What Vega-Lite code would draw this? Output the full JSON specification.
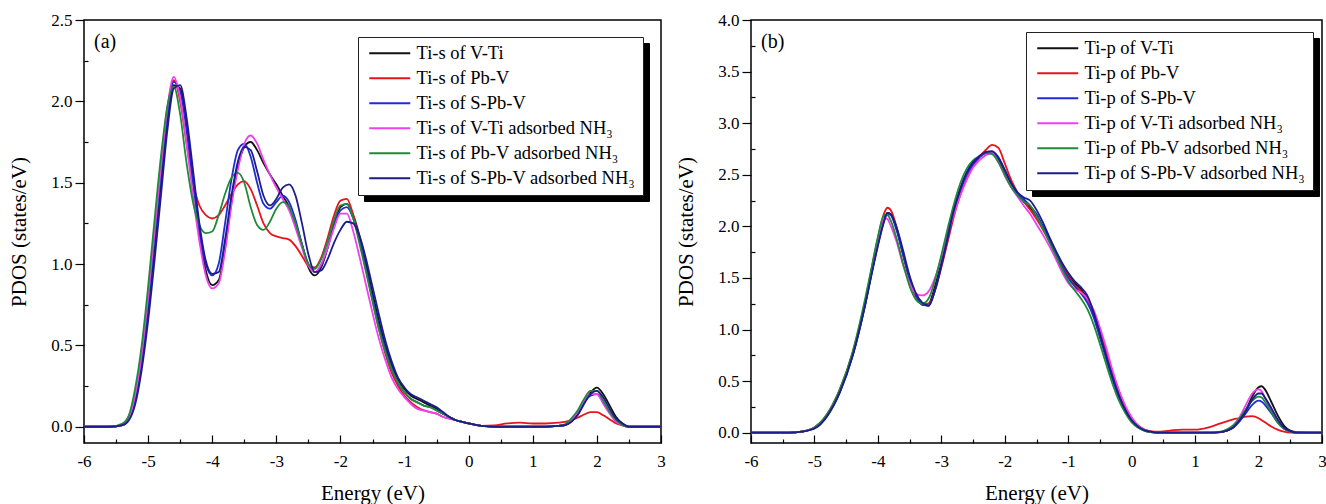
{
  "$schema": "https://vega.github.io/schema/vega-lite/v6.json",
  "autosize": {"type": "pad"},
  "padding": {"left": 8, "top": 10, "right": 0, "bottom": 0},
  "bounds": "flush",
  "spacing": 90,
  "resolve": {"scale": {"color": "independent", "stroke": "independent"}, "legend": {"color": "independent", "stroke": "independent"}},
  "config": {
    "view": {"stroke": "black", "strokeWidth": 1.5},
    "font": "Liberation Serif",
    "axis": {"labelFont": "Liberation Serif", "titleFont": "Liberation Serif", "labelColor": "black", "titleColor": "black", "tickColor": "black", "tickWidth": 1.2, "domain": false, "grid": false, "labelFontSize": 17, "titleFontSize": 21, "titleFontWeight": "normal", "labelFlush": false, "labelOverlap": false},
    "legend": {"labelFont": "Liberation Serif", "labelFontSize": 18.5, "labelColor": "black", "labelLimit": 400}
  },
  "datasets": {
    "a": [
      {"E": -6, "K": 0, "R": 0, "B": 0, "M": 0, "G": 0, "N": 0},
      {"E": -5.6, "K": 0, "R": 0, "B": 0, "M": 0, "G": 0, "N": 0},
      {"E": -5.4, "K": 0.01, "R": 0.01, "B": 0.01, "M": 0.01, "G": 0.02, "N": 0.01},
      {"E": -5.3, "K": 0.05, "R": 0.06, "B": 0.05, "M": 0.05, "G": 0.07, "N": 0.04},
      {"E": -5.2, "K": 0.17, "R": 0.2, "B": 0.18, "M": 0.2, "G": 0.24, "N": 0.14},
      {"E": -5.1, "K": 0.4, "R": 0.45, "B": 0.42, "M": 0.45, "G": 0.5, "N": 0.35},
      {"E": -5.0, "K": 0.72, "R": 0.8, "B": 0.75, "M": 0.8, "G": 0.86, "N": 0.65},
      {"E": -4.9, "K": 1.1, "R": 1.2, "B": 1.15, "M": 1.2, "G": 1.27, "N": 1.02},
      {"E": -4.8, "K": 1.5, "R": 1.6, "B": 1.55, "M": 1.6, "G": 1.66, "N": 1.42},
      {"E": -4.7, "K": 1.88, "R": 1.95, "B": 1.92, "M": 1.96, "G": 1.97, "N": 1.82},
      {"E": -4.6, "K": 2.1, "R": 2.13, "B": 2.12, "M": 2.15, "G": 2.09, "N": 2.08},
      {"E": -4.5, "K": 2.08, "R": 2.0, "B": 2.06, "M": 2.02, "G": 1.92, "N": 2.1},
      {"E": -4.4, "K": 1.85, "R": 1.74, "B": 1.82, "M": 1.74, "G": 1.62, "N": 1.9},
      {"E": -4.3, "K": 1.52, "R": 1.5, "B": 1.5, "M": 1.42, "G": 1.38, "N": 1.58},
      {"E": -4.2, "K": 1.2, "R": 1.36, "B": 1.2, "M": 1.14, "G": 1.24, "N": 1.25},
      {"E": -4.1, "K": 0.96, "R": 1.3, "B": 1.0, "M": 0.93, "G": 1.19, "N": 1.02},
      {"E": -4.0, "K": 0.87, "R": 1.28, "B": 0.93, "M": 0.85, "G": 1.2, "N": 0.94},
      {"E": -3.9, "K": 0.9, "R": 1.3, "B": 1.0, "M": 0.88, "G": 1.3, "N": 0.95},
      {"E": -3.8, "K": 1.1, "R": 1.36, "B": 1.25, "M": 1.08, "G": 1.43, "N": 1.15},
      {"E": -3.7, "K": 1.38, "R": 1.43, "B": 1.52, "M": 1.36, "G": 1.53, "N": 1.42},
      {"E": -3.6, "K": 1.6, "R": 1.49, "B": 1.7, "M": 1.58, "G": 1.56, "N": 1.63},
      {"E": -3.5, "K": 1.72, "R": 1.51, "B": 1.74, "M": 1.74, "G": 1.5, "N": 1.72},
      {"E": -3.4, "K": 1.75, "R": 1.46, "B": 1.66, "M": 1.79, "G": 1.35, "N": 1.7},
      {"E": -3.3, "K": 1.7, "R": 1.36, "B": 1.5, "M": 1.74, "G": 1.24, "N": 1.57},
      {"E": -3.2, "K": 1.62, "R": 1.25, "B": 1.37, "M": 1.64, "G": 1.21, "N": 1.42},
      {"E": -3.1, "K": 1.55, "R": 1.19, "B": 1.34, "M": 1.55, "G": 1.26, "N": 1.36},
      {"E": -3.0, "K": 1.49, "R": 1.17, "B": 1.38, "M": 1.47, "G": 1.34, "N": 1.4},
      {"E": -2.9, "K": 1.42, "R": 1.16, "B": 1.42, "M": 1.4, "G": 1.38, "N": 1.47},
      {"E": -2.8, "K": 1.35, "R": 1.15, "B": 1.38, "M": 1.33, "G": 1.35, "N": 1.49},
      {"E": -2.7, "K": 1.25, "R": 1.11, "B": 1.27, "M": 1.22, "G": 1.25, "N": 1.42},
      {"E": -2.6, "K": 1.12, "R": 1.05, "B": 1.12, "M": 1.1, "G": 1.12, "N": 1.25},
      {"E": -2.5, "K": 0.98, "R": 0.99, "B": 1.0, "M": 0.99, "G": 1.0, "N": 1.06},
      {"E": -2.4, "K": 0.93, "R": 0.98, "B": 0.95, "M": 0.95, "G": 0.97, "N": 0.95},
      {"E": -2.3, "K": 0.98, "R": 1.04, "B": 0.99, "M": 1.0, "G": 1.03, "N": 0.96},
      {"E": -2.2, "K": 1.1, "R": 1.16, "B": 1.1, "M": 1.1, "G": 1.14, "N": 1.03},
      {"E": -2.1, "K": 1.25, "R": 1.3, "B": 1.24, "M": 1.22, "G": 1.27, "N": 1.13},
      {"E": -2.0, "K": 1.35, "R": 1.39, "B": 1.33, "M": 1.31, "G": 1.36, "N": 1.21},
      {"E": -1.9, "K": 1.37, "R": 1.4, "B": 1.35, "M": 1.31, "G": 1.37, "N": 1.26},
      {"E": -1.8, "K": 1.3, "R": 1.3, "B": 1.28, "M": 1.2, "G": 1.28, "N": 1.25},
      {"E": -1.7, "K": 1.17, "R": 1.14, "B": 1.14, "M": 1.04, "G": 1.12, "N": 1.17},
      {"E": -1.6, "K": 1.0, "R": 0.96, "B": 0.97, "M": 0.87, "G": 0.95, "N": 1.03},
      {"E": -1.5, "K": 0.82, "R": 0.78, "B": 0.79, "M": 0.7, "G": 0.77, "N": 0.86},
      {"E": -1.4, "K": 0.65, "R": 0.6, "B": 0.62, "M": 0.54, "G": 0.6, "N": 0.69},
      {"E": -1.3, "K": 0.5, "R": 0.45, "B": 0.48, "M": 0.41, "G": 0.46, "N": 0.53},
      {"E": -1.2, "K": 0.38, "R": 0.33, "B": 0.36, "M": 0.3, "G": 0.35, "N": 0.4},
      {"E": -1.1, "K": 0.29, "R": 0.25, "B": 0.27, "M": 0.23, "G": 0.27, "N": 0.3},
      {"E": -1.0, "K": 0.23, "R": 0.19, "B": 0.21, "M": 0.18, "G": 0.21, "N": 0.24},
      {"E": -0.9, "K": 0.19, "R": 0.15, "B": 0.17, "M": 0.14, "G": 0.17, "N": 0.2},
      {"E": -0.8, "K": 0.17, "R": 0.12, "B": 0.15, "M": 0.11, "G": 0.15, "N": 0.18},
      {"E": -0.7, "K": 0.15, "R": 0.1, "B": 0.13, "M": 0.1, "G": 0.13, "N": 0.16},
      {"E": -0.6, "K": 0.13, "R": 0.09, "B": 0.12, "M": 0.09, "G": 0.12, "N": 0.14},
      {"E": -0.5, "K": 0.11, "R": 0.08, "B": 0.1, "M": 0.08, "G": 0.1, "N": 0.12},
      {"E": -0.4, "K": 0.08, "R": 0.06, "B": 0.08, "M": 0.06, "G": 0.08, "N": 0.09},
      {"E": -0.3, "K": 0.06, "R": 0.05, "B": 0.06, "M": 0.05, "G": 0.06, "N": 0.06},
      {"E": -0.2, "K": 0.04, "R": 0.04, "B": 0.04, "M": 0.04, "G": 0.04, "N": 0.04},
      {"E": -0.1, "K": 0.03, "R": 0.03, "B": 0.03, "M": 0.03, "G": 0.03, "N": 0.03},
      {"E": 0.0, "K": 0.02, "R": 0.02, "B": 0.02, "M": 0.02, "G": 0.02, "N": 0.02},
      {"E": 0.2, "K": 0.005, "R": 0.005, "B": 0.005, "M": 0.005, "G": 0.005, "N": 0.005},
      {"E": 0.4, "K": 0, "R": 0.008, "B": 0, "M": 0, "G": 0, "N": 0},
      {"E": 0.6, "K": 0, "R": 0.02, "B": 0, "M": 0, "G": 0, "N": 0},
      {"E": 0.8, "K": 0, "R": 0.025, "B": 0, "M": 0, "G": 0, "N": 0},
      {"E": 1.0, "K": 0, "R": 0.02, "B": 0, "M": 0, "G": 0, "N": 0},
      {"E": 1.2, "K": 0, "R": 0.02, "B": 0, "M": 0, "G": 0, "N": 0},
      {"E": 1.4, "K": 0.005, "R": 0.025, "B": 0.005, "M": 0.005, "G": 0.005, "N": 0.005},
      {"E": 1.5, "K": 0.01, "R": 0.03, "B": 0.01, "M": 0.01, "G": 0.015, "N": 0.01},
      {"E": 1.6, "K": 0.03, "R": 0.04, "B": 0.04, "M": 0.04, "G": 0.05, "N": 0.03},
      {"E": 1.7, "K": 0.08, "R": 0.055, "B": 0.09, "M": 0.09, "G": 0.1, "N": 0.07},
      {"E": 1.8, "K": 0.15, "R": 0.075, "B": 0.15, "M": 0.16, "G": 0.17, "N": 0.14},
      {"E": 1.9, "K": 0.21, "R": 0.09, "B": 0.19, "M": 0.2, "G": 0.22, "N": 0.2},
      {"E": 2.0, "K": 0.24, "R": 0.09, "B": 0.2, "M": 0.2, "G": 0.22, "N": 0.22},
      {"E": 2.1, "K": 0.2, "R": 0.07, "B": 0.15, "M": 0.14, "G": 0.16, "N": 0.18},
      {"E": 2.2, "K": 0.13, "R": 0.045, "B": 0.09, "M": 0.08, "G": 0.09, "N": 0.11},
      {"E": 2.3, "K": 0.06, "R": 0.02, "B": 0.04, "M": 0.03, "G": 0.04, "N": 0.05},
      {"E": 2.4, "K": 0.02, "R": 0.008, "B": 0.01, "M": 0.01, "G": 0.01, "N": 0.02},
      {"E": 2.5, "K": 0, "R": 0, "B": 0, "M": 0, "G": 0, "N": 0},
      {"E": 3.0, "K": 0, "R": 0, "B": 0, "M": 0, "G": 0, "N": 0}
    ],
    "b": [
      {"E": -6, "K": 0, "R": 0, "B": 0, "M": 0, "G": 0, "N": 0},
      {"E": -5.4, "K": 0, "R": 0, "B": 0, "M": 0, "G": 0, "N": 0},
      {"E": -5.2, "K": 0.01, "R": 0.01, "B": 0.01, "M": 0.01, "G": 0.01, "N": 0.01},
      {"E": -5.0, "K": 0.05, "R": 0.05, "B": 0.04, "M": 0.05, "G": 0.05, "N": 0.04},
      {"E": -4.8, "K": 0.17, "R": 0.18, "B": 0.16, "M": 0.17, "G": 0.18, "N": 0.16},
      {"E": -4.6, "K": 0.4, "R": 0.42, "B": 0.39, "M": 0.41, "G": 0.42, "N": 0.39},
      {"E": -4.4, "K": 0.75, "R": 0.77, "B": 0.74, "M": 0.76, "G": 0.78, "N": 0.74},
      {"E": -4.2, "K": 1.25, "R": 1.27, "B": 1.24, "M": 1.27, "G": 1.3, "N": 1.24},
      {"E": -4.1, "K": 1.55, "R": 1.58, "B": 1.54, "M": 1.58, "G": 1.6, "N": 1.53},
      {"E": -4.0, "K": 1.84, "R": 1.88, "B": 1.82, "M": 1.88, "G": 1.9, "N": 1.81},
      {"E": -3.9, "K": 2.07, "R": 2.13, "B": 2.06, "M": 2.08, "G": 2.11, "N": 2.05},
      {"E": -3.85, "K": 2.13, "R": 2.18, "B": 2.12, "M": 2.07, "G": 2.11, "N": 2.13},
      {"E": -3.8, "K": 2.12, "R": 2.16, "B": 2.11, "M": 2.01, "G": 2.06, "N": 2.12},
      {"E": -3.7, "K": 1.97, "R": 1.98, "B": 1.95, "M": 1.84, "G": 1.87, "N": 1.98},
      {"E": -3.6, "K": 1.72, "R": 1.72, "B": 1.72, "M": 1.62, "G": 1.63, "N": 1.76},
      {"E": -3.5, "K": 1.5, "R": 1.48, "B": 1.49, "M": 1.45, "G": 1.42, "N": 1.52},
      {"E": -3.4, "K": 1.33, "R": 1.32, "B": 1.33, "M": 1.35, "G": 1.29, "N": 1.35},
      {"E": -3.3, "K": 1.24, "R": 1.25, "B": 1.24, "M": 1.33, "G": 1.25, "N": 1.26},
      {"E": -3.2, "K": 1.25, "R": 1.25, "B": 1.23, "M": 1.37, "G": 1.3, "N": 1.23},
      {"E": -3.1, "K": 1.42, "R": 1.38, "B": 1.38, "M": 1.5, "G": 1.48, "N": 1.38},
      {"E": -3.0, "K": 1.65, "R": 1.6, "B": 1.62, "M": 1.7, "G": 1.72, "N": 1.62},
      {"E": -2.9, "K": 1.92, "R": 1.85, "B": 1.88, "M": 1.92, "G": 1.98, "N": 1.9},
      {"E": -2.8, "K": 2.17, "R": 2.1, "B": 2.15, "M": 2.12, "G": 2.22, "N": 2.16},
      {"E": -2.7, "K": 2.37, "R": 2.31, "B": 2.35, "M": 2.3, "G": 2.42, "N": 2.36},
      {"E": -2.6, "K": 2.52, "R": 2.46, "B": 2.5, "M": 2.45, "G": 2.56, "N": 2.52},
      {"E": -2.5, "K": 2.62, "R": 2.58, "B": 2.6, "M": 2.57, "G": 2.64, "N": 2.62},
      {"E": -2.4, "K": 2.68, "R": 2.67, "B": 2.67, "M": 2.64, "G": 2.68, "N": 2.68},
      {"E": -2.3, "K": 2.72, "R": 2.74, "B": 2.71, "M": 2.69, "G": 2.71, "N": 2.72},
      {"E": -2.2, "K": 2.72, "R": 2.79, "B": 2.72, "M": 2.71, "G": 2.7, "N": 2.73},
      {"E": -2.1, "K": 2.65, "R": 2.76, "B": 2.66, "M": 2.62, "G": 2.62, "N": 2.67},
      {"E": -2.0, "K": 2.53, "R": 2.61, "B": 2.54, "M": 2.49, "G": 2.5, "N": 2.55},
      {"E": -1.9, "K": 2.42, "R": 2.45, "B": 2.42, "M": 2.38, "G": 2.38, "N": 2.42},
      {"E": -1.8, "K": 2.32, "R": 2.33, "B": 2.32, "M": 2.29, "G": 2.3, "N": 2.33},
      {"E": -1.7, "K": 2.24, "R": 2.24, "B": 2.26, "M": 2.2, "G": 2.24, "N": 2.28},
      {"E": -1.6, "K": 2.18, "R": 2.16, "B": 2.2, "M": 2.12, "G": 2.2, "N": 2.25},
      {"E": -1.5, "K": 2.1, "R": 2.07, "B": 2.12, "M": 2.02, "G": 2.1, "N": 2.16},
      {"E": -1.4, "K": 2.0, "R": 1.97, "B": 2.0, "M": 1.92, "G": 1.98, "N": 2.04},
      {"E": -1.3, "K": 1.88, "R": 1.86, "B": 1.87, "M": 1.81, "G": 1.85, "N": 1.9},
      {"E": -1.2, "K": 1.76, "R": 1.75, "B": 1.74, "M": 1.69, "G": 1.72, "N": 1.77},
      {"E": -1.1, "K": 1.64, "R": 1.63, "B": 1.61, "M": 1.56, "G": 1.59, "N": 1.65},
      {"E": -1.0, "K": 1.53, "R": 1.52, "B": 1.5, "M": 1.45, "G": 1.47, "N": 1.55},
      {"E": -0.9, "K": 1.45, "R": 1.43, "B": 1.42, "M": 1.39, "G": 1.38, "N": 1.47},
      {"E": -0.8, "K": 1.39, "R": 1.37, "B": 1.35, "M": 1.36, "G": 1.3, "N": 1.41},
      {"E": -0.7, "K": 1.3, "R": 1.29, "B": 1.26, "M": 1.3, "G": 1.2, "N": 1.33},
      {"E": -0.6, "K": 1.15, "R": 1.17, "B": 1.12, "M": 1.19, "G": 1.05, "N": 1.17},
      {"E": -0.5, "K": 0.95, "R": 0.99, "B": 0.92, "M": 1.02, "G": 0.86, "N": 0.96},
      {"E": -0.4, "K": 0.74, "R": 0.79, "B": 0.71, "M": 0.82, "G": 0.66, "N": 0.74},
      {"E": -0.3, "K": 0.54, "R": 0.58, "B": 0.51, "M": 0.6, "G": 0.47, "N": 0.54},
      {"E": -0.2, "K": 0.37, "R": 0.4, "B": 0.34, "M": 0.41, "G": 0.31, "N": 0.36},
      {"E": -0.1, "K": 0.23, "R": 0.25, "B": 0.21, "M": 0.26, "G": 0.19, "N": 0.22},
      {"E": 0.0, "K": 0.13, "R": 0.14, "B": 0.11, "M": 0.15, "G": 0.1, "N": 0.12},
      {"E": 0.1, "K": 0.06, "R": 0.07, "B": 0.05, "M": 0.07, "G": 0.05, "N": 0.06},
      {"E": 0.2, "K": 0.025, "R": 0.03, "B": 0.02, "M": 0.03, "G": 0.02, "N": 0.025},
      {"E": 0.3, "K": 0.01, "R": 0.015, "B": 0.005, "M": 0.01, "G": 0.005, "N": 0.01},
      {"E": 0.4, "K": 0, "R": 0.01, "B": 0, "M": 0, "G": 0, "N": 0},
      {"E": 0.6, "K": 0, "R": 0.02, "B": 0, "M": 0, "G": 0, "N": 0},
      {"E": 0.8, "K": 0, "R": 0.03, "B": 0, "M": 0, "G": 0, "N": 0},
      {"E": 1.0, "K": 0, "R": 0.03, "B": 0, "M": 0, "G": 0, "N": 0},
      {"E": 1.2, "K": 0, "R": 0.05, "B": 0, "M": 0, "G": 0, "N": 0},
      {"E": 1.4, "K": 0.005, "R": 0.09, "B": 0.005, "M": 0.005, "G": 0.01, "N": 0.005},
      {"E": 1.5, "K": 0.02, "R": 0.11, "B": 0.02, "M": 0.03, "G": 0.03, "N": 0.02},
      {"E": 1.6, "K": 0.05, "R": 0.13, "B": 0.05, "M": 0.07, "G": 0.07, "N": 0.05},
      {"E": 1.7, "K": 0.12, "R": 0.14, "B": 0.11, "M": 0.15, "G": 0.14, "N": 0.12},
      {"E": 1.8, "K": 0.22, "R": 0.155, "B": 0.19, "M": 0.27, "G": 0.23, "N": 0.21},
      {"E": 1.9, "K": 0.35, "R": 0.16, "B": 0.27, "M": 0.38, "G": 0.31, "N": 0.32},
      {"E": 2.0, "K": 0.44, "R": 0.14, "B": 0.31, "M": 0.42, "G": 0.35, "N": 0.38},
      {"E": 2.05, "K": 0.45, "R": 0.12, "B": 0.3, "M": 0.4, "G": 0.34, "N": 0.38},
      {"E": 2.1, "K": 0.42, "R": 0.1, "B": 0.27, "M": 0.34, "G": 0.3, "N": 0.34},
      {"E": 2.2, "K": 0.3, "R": 0.06, "B": 0.19, "M": 0.22, "G": 0.2, "N": 0.24},
      {"E": 2.3, "K": 0.17, "R": 0.03, "B": 0.1, "M": 0.11, "G": 0.1, "N": 0.13},
      {"E": 2.4, "K": 0.07, "R": 0.01, "B": 0.04, "M": 0.04, "G": 0.04, "N": 0.05},
      {"E": 2.5, "K": 0.02, "R": 0, "B": 0.01, "M": 0.01, "G": 0.01, "N": 0.015},
      {"E": 2.6, "K": 0.005, "R": 0, "B": 0, "M": 0, "G": 0, "N": 0},
      {"E": 3.0, "K": 0, "R": 0, "B": 0, "M": 0, "G": 0, "N": 0}
    ]
  },
  "hconcat": [
    {
      "width": 577,
      "height": 423,
      "title": {"text": "(a)", "anchor": "start", "frame": "group", "orient": "top", "offset": -41, "dx": 10, "font": "Liberation Serif", "fontSize": 20, "fontWeight": "normal", "color": "black"},
      "data": {"name": "a"},
      "transform": [{"fold": ["K", "R", "B", "M", "G", "N"], "as": ["s", "v"]}],
      "layer": [
        {
          "mark": {"type": "line", "strokeOpacity": 0},
          "encoding": {
            "x": {"field": "E", "type": "quantitative", "scale": {"domain": [-6, 3], "nice": false, "zero": false}, "axis": {"orient": "bottom", "values": [-5.5, -4.5, -3.5, -2.5, -1.5, -0.5, 0.5, 1.5, 2.5], "tickSize": -4, "labels": false, "title": null}},
            "y": {"field": "v", "type": "quantitative", "scale": {"domain": [-0.1, 2.5], "nice": false, "zero": false}, "axis": {"orient": "left", "values": [0.25, 0.75, 1.25, 1.75, 2.25], "tickSize": -4, "labels": false, "title": null}},
            "stroke": {"field": "s", "type": "nominal", "scale": {"range": ["black"]},
                      "legend": {"title": null, "orient": "none", "legendX": 280, "legendY": 23, "fillColor": "black", "strokeColor": "black", "padding": 7,
                                 "symbolType": "M-1,0H7.2", "symbolSize": 100, "symbolStrokeWidth": 2, "labelOffset": 33, "rowPadding": 6, "labelColor": "black",
                                 "labelExpr": "datum.label == 'K' ? 'Ti-s of V-Ti' : datum.label == 'R' ? 'Ti-s of Pb-V' : datum.label == 'B' ? 'Ti-s of S-Pb-V' : datum.label == 'M' ? 'Ti-s of V-Ti adsorbed NH₃' : datum.label == 'G' ? 'Ti-s of Pb-V adsorbed NH₃' : 'Ti-s of S-Pb-V adsorbed NH₃'"}}
          }
        },
        {
          "mark": {"type": "line", "interpolate": "monotone", "strokeWidth": 1.8},
          "encoding": {
            "x": {"field": "E", "type": "quantitative",
                  "axis": {"orient": "bottom", "values": [-6, -5, -4, -3, -2, -1, 0, 1, 2, 3], "tickSize": -8, "labelPadding": 18, "title": "Energy (eV)", "titlePadding": 13,
                           "labelExpr": "datum.value < 0 ? '-' + abs(datum.value) : '' + datum.value"}},
            "y": {"field": "v", "type": "quantitative",
                  "axis": {"orient": "left", "values": [0, 0.5, 1, 1.5, 2, 2.5], "format": ".1f", "tickSize": 9, "labelPadding": 3, "title": "PDOS (states/eV)", "titlePadding": 21}},
            "color": {"field": "s", "type": "nominal",
                      "scale": {"domain": ["K", "R", "B", "M", "G", "N"], "range": ["#111111", "#e8141c", "#1f2bd6", "#ee40ee", "#1f8a3a", "#1c1c8a"]},
                      "legend": {"title": null, "orient": "none", "legendX": 274, "legendY": 17, "fillColor": "white", "strokeColor": "#222222", "padding": 7,
                                 "symbolType": "M-1,0H7.2", "symbolSize": 100, "symbolStrokeWidth": 2, "labelOffset": 33, "rowPadding": 6,
                                 "labelExpr": "datum.label == 'K' ? 'Ti-s of V-Ti' : datum.label == 'R' ? 'Ti-s of Pb-V' : datum.label == 'B' ? 'Ti-s of S-Pb-V' : datum.label == 'M' ? 'Ti-s of V-Ti adsorbed NH₃' : datum.label == 'G' ? 'Ti-s of Pb-V adsorbed NH₃' : 'Ti-s of S-Pb-V adsorbed NH₃'"}}
          }
        }
      ],
      "resolve": {"axis": {"x": "independent", "y": "independent"}}
    },
    {
      "width": 571,
      "height": 423,
      "title": {"text": "(b)", "anchor": "start", "frame": "group", "orient": "top", "offset": -41, "dx": 10, "font": "Liberation Serif", "fontSize": 20, "fontWeight": "normal", "color": "black"},
      "data": {"name": "b"},
      "transform": [{"fold": ["K", "R", "B", "M", "G", "N"], "as": ["s", "v"]}],
      "layer": [
        {
          "mark": {"type": "line", "strokeOpacity": 0},
          "encoding": {
            "x": {"field": "E", "type": "quantitative", "scale": {"domain": [-6, 3], "nice": false, "zero": false}, "axis": {"orient": "bottom", "values": [-5.5, -4.5, -3.5, -2.5, -1.5, -0.5, 0.5, 1.5, 2.5], "tickSize": -4, "labels": false, "title": null}},
            "y": {"field": "v", "type": "quantitative", "scale": {"domain": [-0.1, 4.0], "nice": false, "zero": false}, "axis": {"orient": "left", "values": [0.25, 0.75, 1.25, 1.75, 2.25, 2.75, 3.25, 3.75], "tickSize": -4, "labels": false, "title": null}},
            "stroke": {"field": "s", "type": "nominal", "scale": {"range": ["black"]},
                      "legend": {"title": null, "orient": "none", "legendX": 281, "legendY": 18, "fillColor": "black", "strokeColor": "black", "padding": 7,
                                 "symbolType": "M-1,0H7.2", "symbolSize": 100, "symbolStrokeWidth": 2, "labelOffset": 33, "rowPadding": 6, "labelColor": "black",
                                 "labelExpr": "datum.label == 'K' ? 'Ti-p of V-Ti' : datum.label == 'R' ? 'Ti-p of Pb-V' : datum.label == 'B' ? 'Ti-p of S-Pb-V' : datum.label == 'M' ? 'Ti-p of V-Ti adsorbed NH₃' : datum.label == 'G' ? 'Ti-p of Pb-V adsorbed NH₃' : 'Ti-p of S-Pb-V adsorbed NH₃'"}}
          }
        },
        {
          "mark": {"type": "line", "interpolate": "monotone", "strokeWidth": 1.8},
          "encoding": {
            "x": {"field": "E", "type": "quantitative",
                  "axis": {"orient": "bottom", "values": [-6, -5, -4, -3, -2, -1, 0, 1, 2, 3], "tickSize": -8, "labelPadding": 18, "title": "Energy (eV)", "titlePadding": 13,
                           "labelExpr": "datum.value < 0 ? '-' + abs(datum.value) : '' + datum.value"}},
            "y": {"field": "v", "type": "quantitative",
                  "axis": {"orient": "left", "values": [0, 0.5, 1, 1.5, 2, 2.5, 3, 3.5, 4], "format": ".1f", "tickSize": 9, "labelPadding": 3, "title": "PDOS (states/eV)", "titlePadding": 21}},
            "color": {"field": "s", "type": "nominal",
                      "scale": {"domain": ["K", "R", "B", "M", "G", "N"], "range": ["#111111", "#e8141c", "#1f2bd6", "#ee40ee", "#1f8a3a", "#1c1c8a"]},
                      "legend": {"title": null, "orient": "none", "legendX": 275, "legendY": 12, "fillColor": "white", "strokeColor": "#222222", "padding": 7,
                                 "symbolType": "M-1,0H7.2", "symbolSize": 100, "symbolStrokeWidth": 2, "labelOffset": 33, "rowPadding": 6,
                                 "labelExpr": "datum.label == 'K' ? 'Ti-p of V-Ti' : datum.label == 'R' ? 'Ti-p of Pb-V' : datum.label == 'B' ? 'Ti-p of S-Pb-V' : datum.label == 'M' ? 'Ti-p of V-Ti adsorbed NH₃' : datum.label == 'G' ? 'Ti-p of Pb-V adsorbed NH₃' : 'Ti-p of S-Pb-V adsorbed NH₃'"}}
          }
        }
      ],
      "resolve": {"axis": {"x": "independent", "y": "independent"}}
    }
  ]
}
